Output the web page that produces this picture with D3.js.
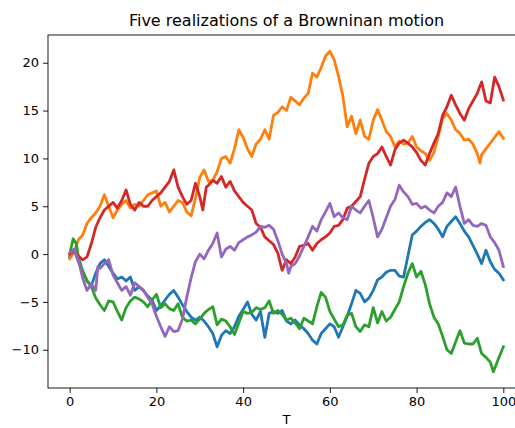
<!DOCTYPE html>
<html><head><meta charset="utf-8">
<script src="https://cdn.jsdelivr.net/npm/d3@7"></script>
<style>body{margin:0;background:#fff;} svg{display:block;} text{font-family:"DejaVu Sans",sans-serif;}</style>
</head><body><svg id="c" width="515" height="428"></svg>
<script>
const title = "Five realizations of a Browninan motion";
const xLabel = "T";
const xTicks = [0, 20, 40, 60, 80, 100];
const yTicks = [-10, -5, 0, 5, 10, 15, 20];
const colors = ["#1f77b4", "#ff7f0e", "#2ca02c", "#d62728", "#9467bd"];

const blue = [[0,-0.3],[1,0.5],[2,-0.8],[3,-1.8],[4,-2.8],[5,-3.3],[6,-2.0],[7,-1.0],[8,-0.6],[9,-1.3],[10,-2.0],[11,-2.6],[12,-2.4],[13,-2.8],[14,-2.4],[15,-3.8],[16,-3.4],[17,-3.8],[18,-4.4],[19,-4.8],[20,-5.9],[21,-5.4],[22,-4.8],[23,-4.2],[24,-3.8],[25,-4.5],[26,-5.3],[27,-6.0],[28,-6.6],[29,-6.9],[30,-6.6],[31,-7.0],[32,-7.6],[33,-8.3],[34,-9.7],[35,-8.5],[36,-8.0],[37,-8.3],[38,-7.6],[39,-6.5],[40,-5.8],[41,-5.0],[42,-6.3],[43,-6.9],[44,-6.0],[45,-8.7],[46,-6.2],[47,-6.0],[48,-6.2],[49,-5.9],[50,-7.0],[51,-7.3],[52,-6.9],[53,-7.4],[54,-7.8],[55,-8.3],[56,-9.0],[57,-9.4],[58,-8.3],[59,-7.8],[60,-7.3],[61,-7.6],[62,-8.7],[63,-7.6],[64,-6.5],[65,-5.2],[66,-3.8],[67,-4.1],[68,-5.0],[69,-4.6],[70,-3.8],[71,-2.7],[72,-2.4],[73,-1.9],[74,-1.7],[75,-1.7],[76,-2.3],[77,-2.4],[78,-0.2],[79,2.0],[80,2.4],[81,2.9],[82,3.3],[83,3.6],[84,3.2],[85,2.6],[86,1.8],[87,2.9],[88,3.4],[89,3.9],[90,3.2],[91,2.4],[92,1.8],[93,0.9],[94,0.0],[95,-1.0],[96,0.4],[97,-0.8],[98,-1.6],[99,-2.0],[100,-2.7]];

const orange = [[0,-0.5],[1,0.2],[2,1.5],[3,2.0],[4,3.2],[5,3.8],[6,4.3],[7,5.0],[8,6.2],[9,5.0],[10,3.8],[11,4.6],[12,5.2],[13,5.6],[14,4.8],[15,5.2],[16,5.0],[17,5.6],[18,6.2],[19,6.4],[20,6.6],[21,5.0],[22,5.4],[23,4.4],[24,5.0],[25,5.6],[26,5.4],[27,4.4],[28,4.0],[29,5.8],[30,8.0],[31,8.8],[32,7.6],[33,7.7],[34,8.6],[35,10.0],[36,10.2],[37,9.5],[38,11.0],[39,13.0],[40,12.2],[41,11.0],[42,10.2],[43,11.5],[44,12.0],[45,13.0],[46,12.0],[47,14.5],[48,14.8],[49,15.4],[50,15.0],[51,16.4],[52,16.0],[53,15.6],[54,16.3],[55,16.8],[56,18.9],[57,18.5],[58,19.5],[59,20.7],[60,21.2],[61,20.3],[62,18.6],[63,16.5],[64,13.3],[65,14.4],[66,12.6],[67,14.0],[68,12.3],[69,12.0],[70,14.0],[71,15.1],[72,14.0],[73,12.8],[74,12.3],[75,11.2],[76,11.8],[77,11.5],[78,11.6],[79,12.3],[80,11.2],[81,10.8],[82,10.5],[83,9.8],[84,10.6],[85,12.3],[86,14.2],[87,14.7],[88,14.0],[89,13.0],[90,12.6],[91,11.9],[92,12.0],[93,11.5],[94,10.5],[94.6,9.5],[95,10.4],[96,11.0],[97,11.6],[98,12.2],[99,12.8],[100,12.1]];

const green = [[0,0.0],[0.8,1.6],[1.5,1.1],[2,-0.2],[3,-1.8],[4,-2.8],[5,-3.4],[6,-4.6],[7,-5.3],[8,-5.9],[9,-4.9],[10,-5.0],[11,-6.0],[12,-6.9],[13,-5.6],[14,-4.9],[15,-4.5],[16,-4.7],[17,-5.0],[18,-5.5],[19,-4.8],[20,-4.2],[21,-5.6],[22,-5.2],[23,-5.7],[24,-5.9],[25,-5.2],[26,-6.6],[27,-7.0],[28,-6.9],[29,-7.3],[30,-6.8],[31,-6.2],[32,-5.8],[33,-5.5],[34,-7.4],[35,-6.8],[36,-7.0],[37,-7.6],[38,-8.4],[39,-7.2],[40,-6.0],[41,-6.2],[42,-6.1],[43,-5.6],[44,-5.8],[45,-5.6],[46,-4.9],[47,-6.2],[48,-5.9],[49,-6.3],[50,-6.9],[51,-6.7],[52,-7.2],[53,-7.8],[54,-6.7],[55,-7.0],[56,-7.3],[57,-5.5],[58,-4.0],[59,-4.5],[60,-6.0],[61,-6.8],[62,-7.6],[63,-7.4],[64,-6.4],[65,-6.2],[66,-7.6],[67,-8.1],[68,-7.4],[69,-7.6],[70,-5.6],[71,-7.2],[72,-6.0],[73,-7.0],[74,-6.6],[75,-5.8],[76,-5.0],[77,-3.4],[78,-2.0],[79,-1.0],[80,-2.4],[81,-1.8],[82,-3.2],[83,-5.2],[84,-6.6],[85,-7.3],[86,-8.6],[87,-10.0],[88,-10.4],[89,-9.2],[90,-8.0],[91,-9.3],[92,-9.4],[93,-9.4],[94,-8.8],[95,-10.4],[96,-10.8],[97,-11.3],[97.7,-12.3],[99,-10.8],[100,-9.7]];

const red = [[0,0.0],[1,0.3],[2,-0.2],[3,-0.6],[4,-0.3],[5,1.1],[6,2.8],[7,3.8],[8,4.6],[9,5.0],[10,5.4],[11,4.8],[12,5.6],[13,6.7],[14,5.2],[15,4.6],[16,5.4],[17,5.0],[18,5.0],[19,5.6],[20,6.0],[21,6.4],[22,7.0],[23,7.6],[24,8.8],[25,7.0],[26,6.0],[27,5.2],[28,5.6],[29,7.4],[30,6.0],[30.7,4.6],[31.5,7.0],[32,7.2],[33,7.7],[34,7.4],[35,8.1],[36,7.0],[37,7.6],[38,6.6],[39,6.0],[40,5.4],[41,5.0],[42,4.6],[43,3.2],[44,2.8],[45,1.8],[46,1.4],[47,1.0],[48,0.1],[49,-1.7],[50,-0.6],[51,-1.0],[52,-0.3],[53,0.8],[54,0.9],[55,1.1],[56,0.4],[57,1.1],[58,1.5],[59,1.8],[60,2.2],[61,2.9],[62,3.0],[63,3.6],[64,4.8],[65,5.0],[66,5.5],[67,6.0],[68,7.8],[69,9.5],[70,10.2],[71,10.5],[72,11.2],[73,10.2],[74,9.3],[75,10.9],[76,11.6],[77,11.9],[78,11.6],[79,11.2],[80,10.6],[81,9.8],[82,9.3],[83,10.5],[84,11.6],[85,12.6],[86,14.5],[87,15.4],[88,16.6],[89,15.6],[90,14.7],[91,14.0],[92,15.2],[93,16.0],[94,16.8],[95,18.0],[96,16.0],[97,15.8],[98,18.5],[99,17.5],[100,16.1]];

const purple = [[0,0.1],[1,0.5],[2,-0.6],[3,-2.5],[4,-3.8],[5,-3.1],[6,-3.8],[6.5,-1.3],[7,-1.5],[8,-1.0],[9,-0.6],[10,-2.2],[11,-3.0],[12,-3.8],[13,-3.4],[14,-4.3],[15,-3.0],[16,-3.4],[17,-3.8],[18,-4.5],[19,-5.2],[20,-6.5],[21,-7.6],[22,-8.6],[23,-7.6],[24,-8.1],[25,-8.0],[26,-6.8],[27,-4.5],[28,-2.5],[29,-0.8],[30,0.0],[31,-0.5],[32,0.4],[33,1.1],[34,2.2],[35,-0.3],[36,0.5],[37,0.8],[38,0.4],[39,1.2],[40,1.5],[41,1.8],[42,2.0],[43,2.3],[44,2.9],[45,2.8],[46,3.0],[47,2.6],[48,1.4],[49,0.0],[50,-1.0],[50.5,-2.0],[51,-1.3],[52,-1.0],[53,-0.2],[54,0.8],[55,1.8],[56,2.9],[57,2.4],[58,3.6],[59,4.4],[60,5.3],[61,3.9],[62,4.3],[63,3.8],[64,3.6],[65,5.0],[66,4.6],[67,4.3],[68,5.0],[69,5.6],[70,3.8],[71,1.8],[72,2.6],[73,3.8],[74,5.0],[75,5.7],[76,7.2],[77,6.5],[78,6.0],[79,5.2],[80,5.3],[81,4.8],[82,5.0],[83,4.6],[84,4.3],[85,5.0],[86,5.4],[87,6.4],[88,6.0],[89,7.0],[90,5.0],[91,3.2],[92,3.6],[93,3.0],[94,2.9],[95,3.2],[96,3.0],[97,1.8],[98,1.2],[99,0.4],[100,-1.3]];

const series = [blue, orange, green, red, purple];

const svg = d3.select("#c");
const L = 48, R = 525, T = 35, B = 388;
const x = d3.scaleLinear().domain([-5, 105]).range([L, R]);
const y = d3.scaleLinear().domain([-14.0, 22.9]).range([B, T]);

svg.append("defs").append("clipPath").attr("id","clip")
  .append("rect").attr("x",L).attr("y",T).attr("width",R-L).attr("height",B-T);

const line = d3.line().x(d => x(d[0])).y(d => y(d[1]));
const g = svg.append("g").attr("clip-path","url(#clip)");
series.forEach((s, i) => {
  g.append("path").datum(s).attr("d", line)
    .attr("fill","none").attr("stroke", colors[i])
    .attr("stroke-width", 2.8).attr("stroke-linejoin","round").attr("stroke-linecap","square");
});

const xAxis = d3.axisBottom(x).tickValues(xTicks).tickSize(5).tickPadding(4);
const yAxis = d3.axisLeft(y).tickValues(yTicks).tickSize(5).tickPadding(4);
const gx = svg.append("g").attr("transform",`translate(0,${B})`).call(xAxis);
const gy = svg.append("g").attr("transform",`translate(${L},0)`).call(yAxis);
[gx, gy].forEach(a => {
  a.select(".domain").remove();
  a.selectAll("line").attr("stroke","#000").attr("stroke-width",0.9);
  a.selectAll("text").attr("font-size","13px").attr("fill","#000").attr("font-family","DejaVu Sans");
});

svg.append("rect").attr("x",L).attr("y",T).attr("width",R-L).attr("height",B-T)
  .attr("fill","none").attr("stroke","#000").attr("stroke-width",0.9);

svg.append("text").attr("x",(L+R)/2).attr("y",26).attr("text-anchor","middle")
  .attr("font-size","16px").attr("fill","#000").text(title);
svg.append("text").attr("x",(L+R)/2).attr("y",424).attr("text-anchor","middle")
  .attr("font-size","13px").attr("fill","#000").text(xLabel);
</script></body></html>
